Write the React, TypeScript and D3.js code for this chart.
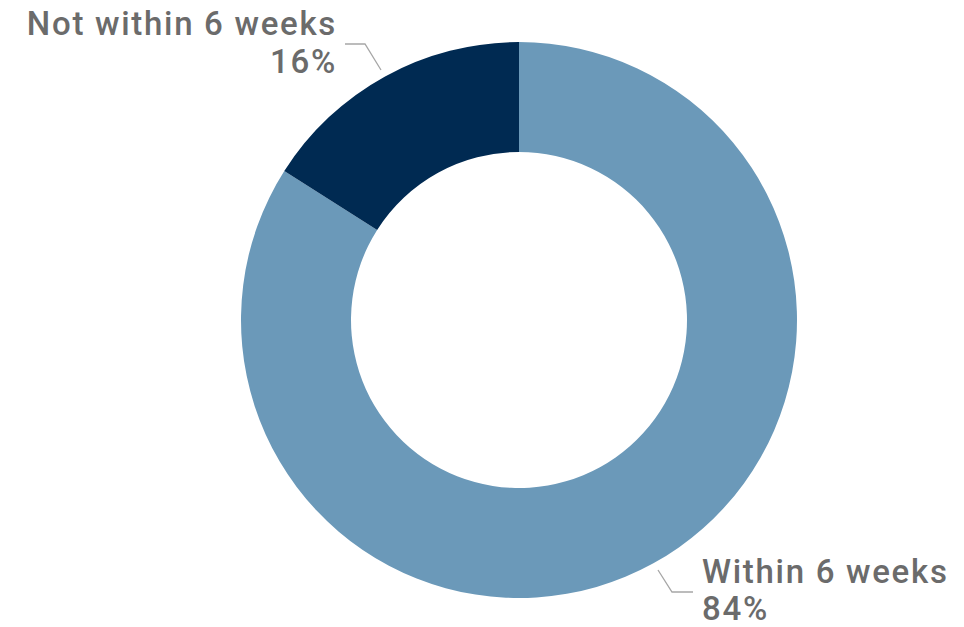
import React from "react";
import * as d3 from "d3";

const categories = ["Within 6 weeks", "Not within 6 weeks"];
const values = [84, 16];
const percentLabels = ["84%", "16%"];
const colors = ["#6b99b9", "#002a52"];

const W = 964;
const H = 627;
const cx = 519;
const cy = 320;
const outerR = 278;
const innerR = 168;

export default function App() {
  const pie = d3.pie<number>().sort(null).value((d) => d)(values);
  const arc = d3.arc<d3.PieArcDatum<number>>().innerRadius(innerR).outerRadius(outerR);
  const font = "Roboto, 'DejaVu Sans', sans-serif";
  const textColor = "#6b6b6b";
  return (
    <svg width={W} height={H} style={{ position: "absolute", left: 0, top: 0 }}>
      <rect width={W} height={H} fill="#ffffff" />
      <g transform={`translate(${cx},${cy})`}>
        {pie.map((p, i) => (
          <path key={categories[i]} d={arc(p) || ""} fill={colors[i]} />
        ))}
      </g>
      {/* leader lines */}
      <polyline points="345,44 365,44 381,70" fill="none" stroke="#a6a6a6" strokeWidth={1.3} />
      <polyline points="658,570 672,592 693,592" fill="none" stroke="#a6a6a6" strokeWidth={1.3} />
      <g fontFamily={font} fontSize={33} fontWeight={500} fill={textColor} letterSpacing={1.7}>
        <text x={337} y={35} textAnchor="end">{categories[1]}</text>
        <text x={337} y={73} textAnchor="end">{percentLabels[1]}</text>
        <text x={702} y={583}>{categories[0]}</text>
        <text x={702} y={620}>{percentLabels[0]}</text>
      </g>
    </svg>
  );
}
